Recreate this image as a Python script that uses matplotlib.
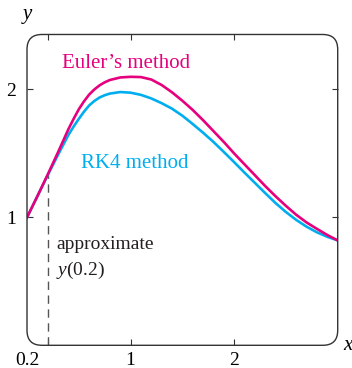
from matplotlib import rcParams
rcParams['font.family'] = 'serif'
rcParams['font.serif'] = ['Liberation Serif']
rcParams['mathtext.fontset'] = 'custom'
rcParams['mathtext.rm'] = 'Liberation Serif'
rcParams['mathtext.it'] = 'Liberation Serif:italic'
rcParams['figure.figsize'] = (3.52, 3.68)
rcParams['xtick.labelsize'] = 14
rcParams['ytick.labelsize'] = 14

import matplotlib.pyplot as plt
from matplotlib.patches import FancyBboxPatch
from matplotlib.transforms import ScaledTranslation

MAGENTA = '#E6007E'
CYAN = '#00AEEF'

# x values (denser where the curves bend)
x = [0.0, 0.1, 0.2, 0.3, 0.4, 0.45, 0.5, 0.55, 0.6, 0.65, 0.7, 0.75, 0.8, 0.9, 1.0,
     1.1, 1.2, 1.3, 1.4, 1.5, 1.6, 1.7, 1.8, 1.9, 2.0,
     2.1, 2.2, 2.3, 2.4, 2.5, 2.6, 2.7, 2.8, 2.9, 3.0]

# Euler's method
y_euler = [1.00, 1.165, 1.335, 1.51, 1.69, 1.77, 1.845, 1.907, 1.96, 2.0, 2.032, 2.056, 2.074, 2.094, 2.099,
           2.097, 2.078, 2.035, 1.978, 1.912, 1.84, 1.76, 1.675, 1.59, 1.50,
           1.415, 1.33, 1.245, 1.165, 1.09, 1.02, 0.96, 0.91, 0.862, 0.82]

# RK4 method
y_rk4 = [1.00, 1.165, 1.33, 1.49, 1.645, 1.71, 1.77, 1.826, 1.875, 1.91, 1.937, 1.955, 1.968, 1.98, 1.975,
         1.958, 1.93, 1.893, 1.85, 1.795, 1.73, 1.662, 1.59, 1.512, 1.432,
         1.35, 1.27, 1.19, 1.112, 1.042, 0.98, 0.927, 0.883, 0.848, 0.82]

x0 = 0.2
y0 = 1.33

xticks = [0.2, 1, 2]
xtick_labels = ['0.2', '1', '2']
yticks = [1, 2]
ytick_labels = ['1', '2']


def main():
    fig = plt.figure(dpi=100)
    ax = fig.add_axes([0.0767, 0.0617, 0.8827, 0.8446])

    ax.plot(x, y_rk4, color=CYAN, lw=1.9, solid_joinstyle='round', zorder=3)
    ax.plot(x, y_euler, color=MAGENTA, lw=1.9, solid_joinstyle='round', zorder=4)

    # dashed line down from y(0.2)
    ax.plot([x0, x0], [0, y0], color='#555555', lw=1.0, ls=(0, (6, 4)), zorder=2)

    ax.set_xlim(0, 3)
    ax.set_ylim(0, 2.43)

    # rounded box instead of spines
    for s in ax.spines.values():
        s.set_visible(False)
    box = FancyBboxPatch((0, 0), 1, 1, boxstyle='round,pad=0,rounding_size=0.048',
                         transform=ax.transAxes, fill=False, ec='#333333', lw=1.0,
                         clip_on=False, zorder=5)
    ax.add_patch(box)

    ax.set_xticks(xticks)
    ax.set_xticklabels(xtick_labels)
    ax.set_yticks(yticks)
    ax.set_yticklabels(ytick_labels)
    ax.tick_params(direction='in', length=4, width=0.8, color='#333333',
                   top=True, right=True)
    ax.tick_params(axis='x', pad=5)
    ax.tick_params(axis='y', pad=8)
    lab = ax.get_xticklabels()[0]
    lab.set_transform(lab.get_transform() + ScaledTranslation(-0.2, 0, fig.dpi_scale_trans))

    ax.text(0.34, 2.17, 'Euler\u2019s method', color=MAGENTA, fontsize=15, va='baseline')
    ax.text(0.518, 1.383, 'RK4 method', color=CYAN, fontsize=15, va='baseline')
    ax.text(0.28, 0.75, 'approximate', color='#231f20', fontsize=14, va='baseline')
    ax.text(0.28, 0.55, r'$y$(0.2)', color='#231f20', fontsize=14, va='baseline')

    fig.text(27 / 352, 1 - 15 / 368, 'y', fontsize=15, style='italic', ha='center', va='center')
    fig.text(348 / 352, 1 - 346 / 368, 'x', fontsize=15, style='italic', ha='center', va='center')

    fig.savefig('out.png', dpi=100)


main()
